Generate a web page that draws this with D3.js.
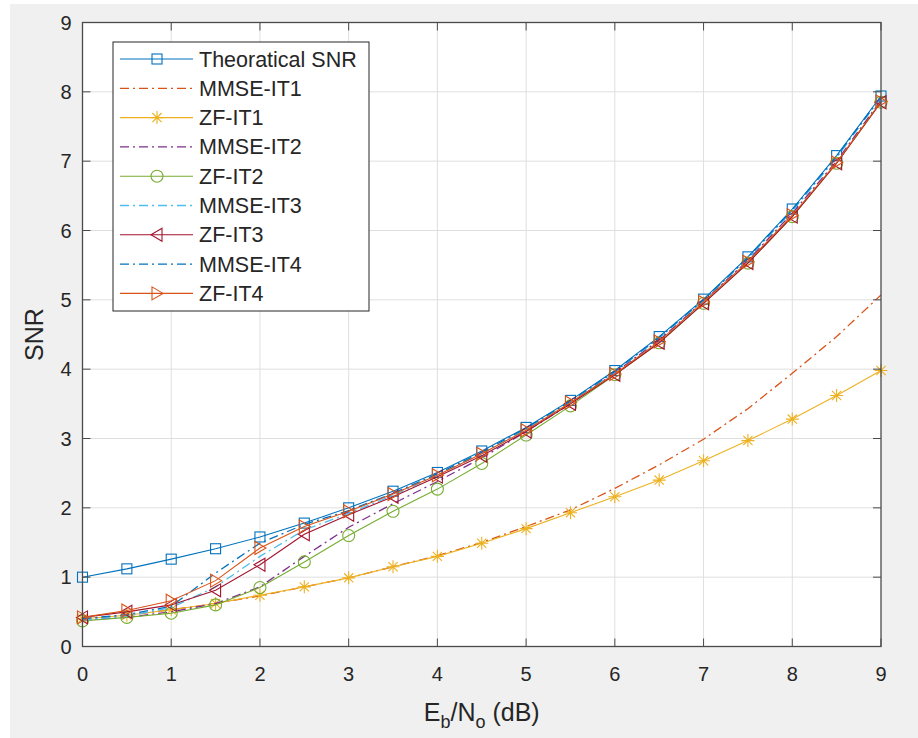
<!DOCTYPE html>
<html>
<head>
<meta charset="utf-8">
<script src="https://cdn.jsdelivr.net/npm/d3@7"></script>
<style>
  body { margin: 0; background: #ffffff; }
  text { font-family: "Liberation Sans", Arial, sans-serif; fill: #262626; }
</style>
</head>
<body>
<div id="chart"></div>
<script>
const width = 918;
const height = 738;
const margin = { top: 22.5, right: 37, bottom: 91.5, left: 82.5 };

// Eb/No values (dB)
const ebno = [0, 0.5, 1, 1.5, 2, 2.5, 3, 3.5, 4, 4.5, 5, 5.5, 6, 6.5, 7, 7.5, 8, 8.5, 9];

// SNR values
const theoretical = [1.00, 1.12, 1.26, 1.41, 1.58, 1.78, 2.00, 2.24, 2.51, 2.82, 3.16, 3.55, 3.98, 4.47, 5.01, 5.62, 6.31, 7.08, 7.94];
const mmseIt1 = [0.40, 0.45, 0.53, 0.62, 0.73, 0.86, 0.99, 1.15, 1.31, 1.50, 1.73, 1.97, 2.28, 2.62, 2.99, 3.43, 3.94, 4.47, 5.07];
const zfIt1 = [0.40, 0.45, 0.53, 0.62, 0.74, 0.86, 0.99, 1.15, 1.30, 1.49, 1.70, 1.93, 2.16, 2.40, 2.68, 2.97, 3.28, 3.62, 3.98];
const mmseIt2 = [0.38, 0.42, 0.50, 0.62, 0.86, 1.30, 1.72, 2.06, 2.38, 2.72, 3.10, 3.50, 3.95, 4.42, 4.98, 5.57, 6.25, 7.00, 7.88];
const zfIt2 = [0.37, 0.42, 0.48, 0.60, 0.85, 1.22, 1.60, 1.95, 2.27, 2.64, 3.05, 3.47, 3.92, 4.38, 4.95, 5.53, 6.20, 6.97, 7.85];
const mmseIt3 = [0.38, 0.44, 0.56, 0.86, 1.30, 1.68, 1.92, 2.18, 2.47, 2.78, 3.13, 3.53, 3.96, 4.45, 4.99, 5.60, 6.28, 7.05, 7.92];
const zfIt3 = [0.42, 0.50, 0.60, 0.81, 1.18, 1.62, 1.90, 2.16, 2.45, 2.75, 3.10, 3.50, 3.92, 4.38, 4.95, 5.53, 6.20, 6.97, 7.85];
const mmseIt4 = [0.40, 0.46, 0.58, 1.06, 1.49, 1.76, 1.96, 2.21, 2.49, 2.80, 3.15, 3.54, 3.97, 4.46, 5.00, 5.61, 6.30, 7.07, 7.93];
const zfIt4 = [0.42, 0.52, 0.66, 0.95, 1.42, 1.73, 1.95, 2.20, 2.47, 2.78, 3.12, 3.52, 3.93, 4.40, 4.97, 5.55, 6.22, 6.98, 7.86];

const xTicks = [0, 1, 2, 3, 4, 5, 6, 7, 8, 9];
const yTicks = [0, 1, 2, 3, 4, 5, 6, 7, 8, 9];

// series in plotting order (matlab default colour order)
const series = [
  { name: 'Theoratical SNR', values: theoretical, color: '#0072BD', dash: null, marker: 'square' },
  { name: 'MMSE-IT1', values: mmseIt1, color: '#D95319', dash: '9,4,2,4', marker: null },
  { name: 'ZF-IT1', values: zfIt1, color: '#EDB120', dash: null, marker: 'star' },
  { name: 'MMSE-IT2', values: mmseIt2, color: '#7E2F8E', dash: '9,4,2,4', marker: null },
  { name: 'ZF-IT2', values: zfIt2, color: '#77AC30', dash: null, marker: 'circle' },
  { name: 'MMSE-IT3', values: mmseIt3, color: '#4DBEEE', dash: '9,4,2,4', marker: null },
  { name: 'ZF-IT3', values: zfIt3, color: '#A2142F', dash: null, marker: 'left' },
  { name: 'MMSE-IT4', values: mmseIt4, color: '#0072BD', dash: '9,4,2,4', marker: null },
  { name: 'ZF-IT4', values: zfIt4, color: '#D95319', dash: null, marker: 'right' }
];

const svg = d3.select('#chart')
  .append('svg')
  .attr('width', width)
  .attr('height', height);

// figure background
svg.append('rect')
  .attr('x', 10).attr('y', 4)
  .attr('width', width - 10).attr('height', height - 4)
  .attr('fill', '#f0f0f0');

const plotW = width - margin.left - margin.right;
const plotH = height - margin.top - margin.bottom;

const x = d3.scaleLinear().domain([0, 9]).range([margin.left, margin.left + plotW]);
const y = d3.scaleLinear().domain([0, 9]).range([margin.top + plotH, margin.top]);

// axes area
svg.append('rect')
  .attr('x', margin.left).attr('y', margin.top)
  .attr('width', plotW).attr('height', plotH)
  .attr('fill', '#ffffff');

// grid
const grid = svg.append('g').attr('stroke', '#dfdfdf').attr('stroke-width', 1);
grid.selectAll('.vg').data(xTicks.slice(1, -1)).enter().append('line')
  .attr('x1', d => x(d)).attr('x2', d => x(d))
  .attr('y1', margin.top).attr('y2', margin.top + plotH);
grid.selectAll('.hg').data(yTicks.slice(1, -1)).enter().append('line')
  .attr('y1', d => y(d)).attr('y2', d => y(d))
  .attr('x1', margin.left).attr('x2', margin.left + plotW);

// symbols
function drawMarker(g, type, cx, cy, color) {
  if (type === 'square') {
    g.append('rect').attr('x', cx - 5).attr('y', cy - 5).attr('width', 10).attr('height', 10)
      .attr('fill', 'none').attr('stroke', color).attr('stroke-width', 1.1);
  } else if (type === 'circle') {
    g.append('circle').attr('cx', cx).attr('cy', cy).attr('r', 6)
      .attr('fill', 'none').attr('stroke', color).attr('stroke-width', 1.1);
  } else if (type === 'star') {
    const r = 6.5;
    const p = [];
    [0, 45, 90, 135].forEach(a => {
      const rad = a * Math.PI / 180;
      p.push(`M${cx - r * Math.cos(rad)},${cy - r * Math.sin(rad)}L${cx + r * Math.cos(rad)},${cy + r * Math.sin(rad)}`);
    });
    g.append('path').attr('d', p.join('')).attr('fill', 'none').attr('stroke', color).attr('stroke-width', 1.1);
  } else if (type === 'left') {
    g.append('path')
      .attr('d', `M${cx - 6},${cy}L${cx + 5},${cy - 6.5}L${cx + 5},${cy + 6.5}Z`)
      .attr('fill', 'none').attr('stroke', color).attr('stroke-width', 1.1);
  } else if (type === 'right') {
    g.append('path')
      .attr('d', `M${cx + 6},${cy}L${cx - 5},${cy - 6.5}L${cx - 5},${cy + 6.5}Z`)
      .attr('fill', 'none').attr('stroke', color).attr('stroke-width', 1.1);
  }
}

const line = d3.line()
  .x((d, i) => x(ebno[i]))
  .y(d => y(d));

const plot = svg.append('g');
series.forEach(s => {
  plot.append('path')
    .datum(s.values)
    .attr('d', line)
    .attr('fill', 'none')
    .attr('stroke', s.color)
    .attr('stroke-width', s.dash ? 1.3 : 1.1)
    .attr('stroke-dasharray', s.dash);
  if (s.marker) {
    const mg = plot.append('g');
    s.values.forEach((v, i) => drawMarker(mg, s.marker, x(ebno[i]), y(v), s.color));
  }
});

// box + ticks
const axisColor = '#4a4a4a';
svg.append('rect')
  .attr('x', margin.left).attr('y', margin.top)
  .attr('width', plotW).attr('height', plotH)
  .attr('fill', 'none').attr('stroke', axisColor).attr('stroke-width', 1.3);

const tickLen = 8;
const ticks = svg.append('g').attr('stroke', axisColor).attr('stroke-width', 1);
xTicks.forEach(t => {
  ticks.append('line').attr('x1', x(t)).attr('x2', x(t)).attr('y1', y(0)).attr('y2', y(0) - tickLen);
  ticks.append('line').attr('x1', x(t)).attr('x2', x(t)).attr('y1', y(9)).attr('y2', y(9) + tickLen);
});
yTicks.forEach(t => {
  ticks.append('line').attr('y1', y(t)).attr('y2', y(t)).attr('x1', x(0)).attr('x2', x(0) + tickLen);
  ticks.append('line').attr('y1', y(t)).attr('y2', y(t)).attr('x1', x(9)).attr('x2', x(9) - tickLen);
});

// tick labels
svg.append('g').selectAll('text').data(xTicks).enter().append('text')
  .attr('x', d => x(d)).attr('y', y(0) + 34)
  .attr('text-anchor', 'middle').attr('font-size', 20)
  .text(d => d);
svg.append('g').selectAll('text').data(yTicks).enter().append('text')
  .attr('x', margin.left - 11).attr('y', d => y(d) + 7)
  .attr('text-anchor', 'end').attr('font-size', 20)
  .text(d => d);

// axis labels
const xl = svg.append('text')
  .attr('x', x(4.5)).attr('y', 721)
  .attr('text-anchor', 'middle').attr('font-size', 25);
xl.append('tspan').text('E');
xl.append('tspan').attr('font-size', 18).attr('dy', 7).text('b');
xl.append('tspan').attr('dy', -7).text('/N');
xl.append('tspan').attr('font-size', 18).attr('dy', 7).text('o');
xl.append('tspan').attr('dy', -7).text(' (dB)');

svg.append('text')
  .attr('transform', `translate(43,${y(4.5)}) rotate(-90)`)
  .attr('text-anchor', 'middle').attr('font-size', 25)
  .text('SNR');

// legend
const legend = svg.append('g');
const lgX = 113, lgY = 42, lgW = 256, lgH = 269, rowH = 29.3;
legend.append('rect')
  .attr('x', lgX).attr('y', lgY).attr('width', lgW).attr('height', lgH)
  .attr('fill', '#ffffff').attr('stroke', '#262626').attr('stroke-width', 1);
series.forEach((s, i) => {
  const cy = lgY + 17 + i * rowH;
  legend.append('line')
    .attr('x1', lgX + 7).attr('x2', lgX + 80)
    .attr('y1', cy).attr('y2', cy)
    .attr('stroke', s.color).attr('stroke-width', s.dash ? 1.3 : 1.1)
    .attr('stroke-dasharray', s.dash);
  if (s.marker) drawMarker(legend, s.marker, lgX + 44, cy, s.color);
  legend.append('text')
    .attr('x', lgX + 86).attr('y', cy + 7.5)
    .attr('font-size', 21.5)
    .text(s.name);
});
</script>
</body>
</html>
